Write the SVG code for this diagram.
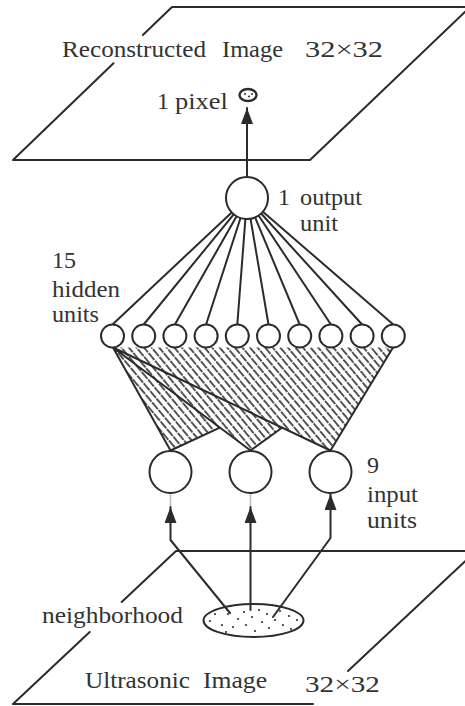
<svg xmlns="http://www.w3.org/2000/svg" width="465" height="706" viewBox="0 0 465 706">
  <style>
    .ln { fill: none; stroke: #2b2b2b; stroke-width: 2; stroke-linecap: round; stroke-linejoin: round; }
    .unit { fill: #ffffff; stroke: #2b2b2b; stroke-width: 2; }
    .lbl { font-family: "Liberation Serif", "Times New Roman", serif; font-size: 24px; fill: #333333; }
    .dot { fill: #333333; }
    .faint { stroke: #bdbdbd; stroke-width: 1.5; }
  </style>
  <defs>
    <marker id="arrow" markerUnits="userSpaceOnUse" viewBox="0 0 16 12" refX="16" refY="6" markerWidth="16" markerHeight="12" orient="auto">
      <path d="M0,0 L16,6 L0,12 Z" fill="#2b2b2b"/>
    </marker>
    <pattern id="hatch" patternUnits="userSpaceOnUse" width="5.8" height="10" patternTransform="rotate(-40)">
      <line x1="2.9" y1="0" x2="2.9" y2="10" stroke="#2e2e2e" stroke-width="1.6" stroke-dasharray="5 1"/>
    </pattern>
    <clipPath id="fanClip">
      <polygon points="113,347.5 170.5,450.5 219.9,427.6 250.5,450.5 282,427.7 330.5,450.5 393,347.5"/>
    </clipPath>
  </defs>

  <rect width="465" height="706" fill="#ffffff"/>

  <!-- output plane -->
  <g id="reconstructed-image">
    <path class="ln" d="M13,160 L113.5,63.3 M142.9,35 L172,7 L470,7 L310,160 L13,160"/>
    <text class="lbl"><tspan x="62" y="57" textLength="144" lengthAdjust="spacingAndGlyphs">Reconstructed</tspan><tspan x="222" y="57" textLength="61" lengthAdjust="spacingAndGlyphs">Image</tspan><tspan x="305" y="57" textLength="78" lengthAdjust="spacingAndGlyphs">32×32</tspan></text>
  </g>

  <!-- the single reconstructed pixel -->
  <g id="pixel">
    <ellipse cx="248" cy="95" rx="8.5" ry="6" fill="#ffffff" stroke="#2b2b2b" stroke-width="2.4"/>
    <circle class="dot" cx="245" cy="94" r="1"/>
    <circle class="dot" cx="249" cy="96.5" r="1"/>
    <circle class="dot" cx="252" cy="94" r="1"/>
    <text class="lbl"><tspan x="157" y="109">1</tspan><tspan x="175" y="109" textLength="53" lengthAdjust="spacingAndGlyphs">pixel</tspan></text>
  </g>

  <!-- input plane -->
  <g id="ultrasonic-image">
    <path class="ln" d="M465,551 L176,551 L121.7,602 M89.7,632 L13,704 L313,704 M348,671 L476,551"/>
    <text class="lbl"><tspan x="85" y="688" textLength="105" lengthAdjust="spacingAndGlyphs">Ultrasonic</tspan><tspan x="203" y="688" textLength="64" lengthAdjust="spacingAndGlyphs">Image</tspan><tspan x="305" y="692" textLength="75" lengthAdjust="spacingAndGlyphs">32×32</tspan></text>
  </g>

  <!-- sampled neighborhood -->
  <g id="neighborhood">
    <ellipse cx="253.5" cy="620.5" rx="50" ry="16.5" fill="#ffffff" stroke="#2b2b2b" stroke-width="2"/>
    <g class="dot">
      <circle cx="210" cy="621" r="1.1"/><circle cx="215" cy="614" r="1.1"/><circle cx="222" cy="625" r="1.1"/>
      <circle cx="226" cy="632" r="1.1"/><circle cx="228" cy="614" r="1.1"/><circle cx="233" cy="627" r="1.1"/>
      <circle cx="238" cy="619" r="1.1"/><circle cx="244" cy="612" r="1.1"/><circle cx="246" cy="625" r="1.1"/>
      <circle cx="252" cy="617" r="1.1"/><circle cx="255" cy="631" r="1.1"/><circle cx="259" cy="610" r="1.1"/>
      <circle cx="262" cy="622" r="1.1"/><circle cx="267" cy="614" r="1.1"/><circle cx="269" cy="628" r="1.1"/>
      <circle cx="275" cy="620" r="1.1"/><circle cx="280" cy="611" r="1.1"/><circle cx="283" cy="625" r="1.1"/>
      <circle cx="289" cy="616" r="1.1"/><circle cx="291" cy="629" r="1.1"/><circle cx="297" cy="620" r="1.1"/>
    </g>
    <text class="lbl" x="42" y="623" textLength="141" lengthAdjust="spacingAndGlyphs">neighborhood</text>
  </g>

  <!-- connections -->
  <g id="connectors">
    <!-- hidden to input fan, hatched -->
    <rect x="100" y="340" width="310" height="120" fill="url(#hatch)" clip-path="url(#fanClip)"/>
    <path class="ln" d="M113,347.5 L170.5,450.5 M113,347.5 L250.5,450.5 M113,347.5 L330.5,450.5 M170.5,450.5 L219.9,427.6 M250.5,450.5 L282,427.7 M330.5,450.5 L393,347.5"/>
    <!-- output to hidden -->
    <path class="ln" d="M231.7,212.4 L112.5,324.5 M233.7,214.3 L143.7,324.5 M236.6,216.2 L174.9,324.5 M240.5,218 L206.1,324.5 M245.4,218.9 L237.3,324.5 M250.5,218.7 L268.5,324.5 M255.1,217.4 L299.7,324.5 M258.6,215.5 L330.9,324.5 M261.1,213.5 L362.1,324.5 M262.9,211.7 L393.3,324.5"/>
    <!-- output unit to pixel -->
    <path class="ln" d="M247,177 L247,108" marker-end="url(#arrow)"/>
    <!-- neighborhood to input units -->
    <path class="ln" d="M230,613 L170.5,540 L170.5,507" marker-end="url(#arrow)"/>
    <path class="ln" d="M250.5,610 L250.5,507" marker-end="url(#arrow)"/>
    <path class="ln" d="M273,617 L330.5,538 L330.5,494" marker-end="url(#arrow)"/>
    <path class="faint" d="M170.5,493 L170.5,506 M250.5,493 L250.5,506"/>
  </g>

  <!-- output unit -->
  <g id="output-unit">
    <circle class="unit" cx="247" cy="198" r="21"/>
    <text class="lbl"><tspan x="278" y="205">1</tspan><tspan x="300" y="205" textLength="62" lengthAdjust="spacingAndGlyphs">output</tspan><tspan x="300" y="231" textLength="38" lengthAdjust="spacingAndGlyphs">unit</tspan></text>
  </g>

  <!-- hidden units -->
  <g id="hidden-units">
    <circle id="hidden-1" class="unit" cx="112.5" cy="336" r="11.5"/>
    <circle id="hidden-2" class="unit" cx="143.7" cy="336" r="11.5"/>
    <circle id="hidden-3" class="unit" cx="174.9" cy="336" r="11.5"/>
    <circle id="hidden-4" class="unit" cx="206.1" cy="336" r="11.5"/>
    <circle id="hidden-5" class="unit" cx="237.3" cy="336" r="11.5"/>
    <circle id="hidden-6" class="unit" cx="268.5" cy="336" r="11.5"/>
    <circle id="hidden-7" class="unit" cx="299.7" cy="336" r="11.5"/>
    <circle id="hidden-8" class="unit" cx="330.9" cy="336" r="11.5"/>
    <circle id="hidden-9" class="unit" cx="362.1" cy="336" r="11.5"/>
    <circle id="hidden-10" class="unit" cx="393.3" cy="336" r="11.5"/>
    <text class="lbl"><tspan x="52" y="268">15</tspan><tspan x="52" y="297" textLength="68" lengthAdjust="spacingAndGlyphs">hidden</tspan><tspan x="52" y="322" textLength="47" lengthAdjust="spacingAndGlyphs">units</tspan></text>
  </g>

  <!-- input units -->
  <g id="input-units">
    <circle id="input-1" class="unit" cx="170.5" cy="472" r="21"/>
    <circle id="input-2" class="unit" cx="250.5" cy="472" r="21"/>
    <circle id="input-3" class="unit" cx="330.5" cy="472" r="21"/>
    <text class="lbl"><tspan x="367" y="473">9</tspan><tspan x="367" y="502" textLength="51" lengthAdjust="spacingAndGlyphs">input</tspan><tspan x="367" y="528" textLength="50" lengthAdjust="spacingAndGlyphs">units</tspan></text>
  </g>
</svg>
